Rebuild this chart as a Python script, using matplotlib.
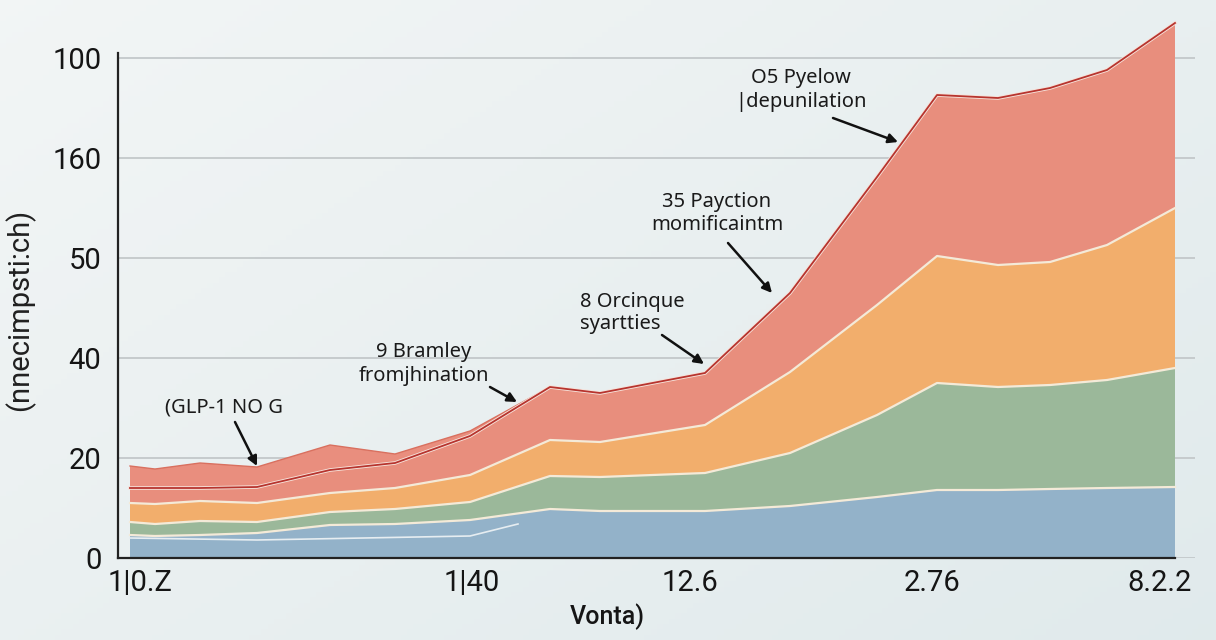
import numpy as np
import matplotlib
matplotlib.use("Agg")
import matplotlib.pyplot as plt

# positions along x
x_vals = [0.0, 2.5, 7.0, 12.7, 20.0, 26.5, 34.0, 42.0, 47.0, 57.5, 66.0, 74.7, 80.7, 86.8, 92.0, 97.7, 104.5]

# layer thicknesses, bottom to top
blue   = [4.6, 4.4, 4.6, 5.0, 6.6, 6.8, 7.6, 9.8, 9.4, 9.4, 10.4, 12.2, 13.6, 13.6, 13.8, 14.0, 14.2]
green  = [2.6, 2.4, 2.8, 2.2, 2.6, 3.0, 3.6, 6.6, 6.8, 7.6, 10.6, 16.4, 21.4, 20.6, 20.8, 21.6, 23.8]
orange = [3.8, 4.0, 4.0, 3.8, 3.8, 4.2, 5.4, 7.2, 7.0, 9.6, 16.2, 22.0, 25.4, 24.4, 24.6, 27.0, 32.0]
red    = [3.0, 3.2, 2.6, 3.2, 4.6, 5.0, 7.8, 10.6, 9.8, 10.4, 15.8, 25.6, 32.2, 33.4, 34.8, 35.0, 37.0]
red_top = [4.4, 3.8, 5.0, 4.0, 5.0, 1.8, 1.0, 0, 0, 0, 0, 0, 0, 0, 0, 0, 0]

# thin light line inside the blue band
inner_x = [0.0, 12.7, 34.0, 38.8]
inner_y = [4.0, 3.6, 4.4, 6.8]

y_ticks = [0, 20, 40, 60, 80, 100]
y_labels = ["0", "20", "40", "50", "160", "100"]
x_ticks = [1.0, 34.2, 56.0, 80.2, 103.0]
x_labels = ["1|0.Z", "1|40", "12.6", "2.76", "8.2.2"]

colors = ["#93b2c9", "#9bb89a", "#f2ae6c", "#e88e7d", "#e98e7e"]

fig = plt.figure(figsize=(12.16, 6.4), dpi=100)

# soft background gradient
bg = fig.add_axes([0, 0, 1, 1], zorder=-5)
gx, gy = np.meshgrid(np.linspace(0, 1, 200), np.linspace(0, 1, 120))
t = np.clip(0.55 * gx + 0.45 * gy, 0, 1)[..., None]
c0 = np.array([0.950, 0.962, 0.962])
c1 = np.array([0.880, 0.918, 0.925])
bg.imshow(c0 * (1 - t) + c1 * t, aspect="auto", extent=[0, 1, 0, 1])
bg.axis("off")

ax = fig.add_axes([118 / 1216, 82 / 640, 1077 / 1216, 540 / 640])
ax.set_facecolor("none")

layers = [blue, green, orange, red, red_top]
ax.stackplot(x_vals, *layers, colors=colors, zorder=2, linewidth=0)

cum = np.cumsum(np.array(layers), axis=0)
for k in range(3):
    ax.plot(x_vals, cum[k], color="#f4ead8", lw=1.6, zorder=3)
ax.plot(inner_x, inner_y, color="#e6edf1", lw=1.2, zorder=3)
ax.plot(x_vals, cum[4], color="#d9705f", lw=1.0, zorder=3)
ax.plot(x_vals, cum[3], color="#f6e2da", lw=2.6, zorder=3)
ax.plot(x_vals, cum[3], color="#b7342e", lw=1.3, zorder=4)

ax.set_xlim(-1.2, 106.5)
ax.set_ylim(0, 108)
ax.set_yticks(y_ticks)
ax.set_yticklabels(y_labels)
ax.set_xticks(x_ticks)
ax.set_xticklabels(x_labels)
ax.tick_params(length=0, labelsize=21, colors="#151515")
ax.tick_params(axis="y", pad=12)
ax.tick_params(axis="x", pad=8)
for lab in ax.get_xticklabels() + ax.get_yticklabels():
    lab.set_fontfamily("Roboto")

ax.grid(axis="y", color="#c3c8ca", lw=1.3, zorder=1)
ax.set_axisbelow(True)
for s in ["top", "right"]:
    ax.spines[s].set_visible(False)
ax.spines["left"].set_bounds(0, 101)
ax.spines["bottom"].set_bounds(-1.2, 104.5)
ax.spines["left"].set_linewidth(1.6)
ax.spines["bottom"].set_linewidth(1.6)
ax.spines["left"].set_color("#222222")
ax.spines["bottom"].set_color("#222222")

ax.set_xlabel("Vonta)", fontsize=18, fontfamily="Roboto", fontweight="medium", color="#151515")
ax.xaxis.set_label_coords(0.454, -0.085)
ax.set_ylabel("(nnecimpsti:ch)", fontsize=21, fontfamily="Roboto", color="#202020")
ax.yaxis.set_label_coords(-0.077, 0.46)

notes = [
    ("(GLP-1 NO G", (3.5, 30.0), (10.5, 27.2), (12.7, 18.4), "left"),
    ("9 Bramley\nfromjhination", (29.4, 38.8), (36.0, 34.2), (38.7, 31.2), "center"),
    ("8 Orcinque\nsyartties", (45.0, 49.0), (53.2, 44.6), (57.4, 38.8), "left"),
    ("35 Payction\nmomificaintm", (58.7, 68.8), (59.8, 63.0), (64.2, 53.0), "center"),
    ("O5 Pyelow\n|depunilation", (67.1, 93.6), (70.3, 88.0), (76.8, 83.2), "center"),
]
for txt, pos, start, tip, ha in notes:
    ax.text(pos[0], pos[1], txt, ha=ha, va="center", fontsize=14.5,
            fontfamily="Noto Sans", color="#1a1a1a", linespacing=1.2, zorder=6)
    ax.annotate("", xy=tip, xytext=start, zorder=6,
                arrowprops=dict(arrowstyle="-|>", color="#111111", lw=1.8,
                                mutation_scale=14, shrinkA=0, shrinkB=0))

fig.savefig("out.png", dpi=100)
